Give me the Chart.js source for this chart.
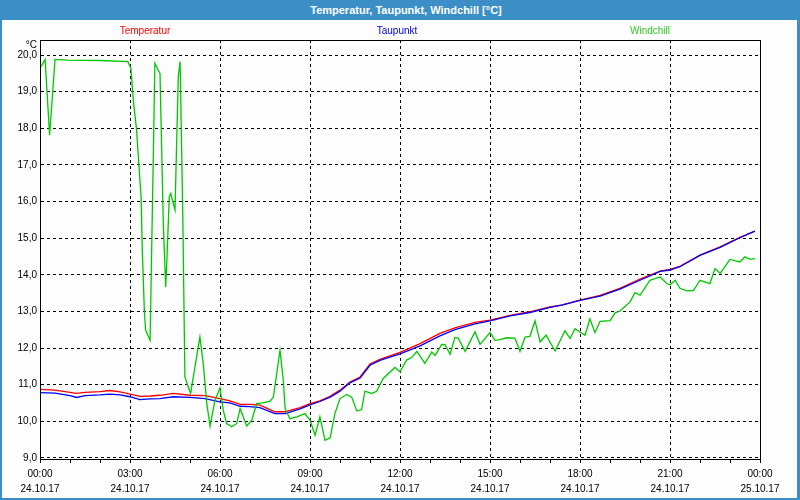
<!DOCTYPE html>
<html><head><meta charset="utf-8">
<script src="https://cdn.jsdelivr.net/npm/chart.js@4"></script>
<style>
html,body{margin:0;padding:0;background:#fff;}
#wrap{position:relative;width:800px;height:500px;overflow:hidden;background:#fcfdfc;font-family:"Liberation Sans",Arial,sans-serif;}
#title{position:absolute;left:0;top:0;width:812px;height:20px;background:#3c8fc6;color:#fff;font-weight:bold;font-size:11px;line-height:20px;text-align:center;}
#frame{position:absolute;left:0;top:20px;width:800px;height:480px;box-sizing:border-box;border-left:2px solid #3c8fc6;border-right:3px solid #3c8fc6;border-bottom:2px solid #3c8fc6;pointer-events:none}
.leg{position:absolute;top:24px;font-size:10px;line-height:13px;transform:translateX(-50%);white-space:nowrap}
#unit{position:absolute;right:763px;top:38px;font-size:10px;line-height:13px;color:#000}
canvas{position:absolute;left:0;top:0}
</style>
</head><body>
<div id="wrap">
<canvas id="c" width="800" height="500"></canvas>
<div id="title">Temperatur, Taupunkt, Windchill [°C]</div>
<div class="leg" style="left:145px;color:#ff0000">Temperatur</div>
<div class="leg" style="left:397px;color:#0000e0">Taupunkt</div>
<div class="leg" style="left:650px;color:#33cc22">Windchill</div>
<div id="unit">°C</div>
<div id="frame"></div>
</div>
<script>
// x tick labels (every 3 hours)
const timeLabels = ['00:00','03:00','06:00','09:00','12:00','15:00','18:00','21:00','00:00'];
const dateLabels = ['24.10.17','24.10.17','24.10.17','24.10.17','24.10.17','24.10.17','24.10.17','24.10.17','25.10.17'];

// Temperatur / Taupunkt (hours since 00:00)
const tempHours = [0,0.5,1,1.22,1.5,2,2.33,2.67,3,3.33,3.67,4,4.44,5,5.5,6,6.33,6.67,7,7.33,7.83,8.17,8.33,8.67,9,9.33,9.67,10,10.33,10.67,11,11.33,12,12.67,13.33,13.83,14.5,15,15.67,16.33,17,17.4,18,18.67,19.33,20,20.67,21,21.33,22,22.67,23.33,23.83];
const temperatur = [10.87,10.85,10.79,10.76,10.79,10.81,10.84,10.80,10.74,10.68,10.69,10.71,10.76,10.71,10.70,10.62,10.56,10.46,10.46,10.44,10.26,10.26,10.30,10.37,10.48,10.56,10.68,10.85,11.07,11.21,11.56,11.69,11.88,12.12,12.40,12.55,12.70,12.76,12.89,12.99,13.12,13.18,13.31,13.44,13.63,13.88,14.10,14.15,14.23,14.54,14.76,15.02,15.19];
const taupunkt = [10.78,10.77,10.70,10.65,10.70,10.72,10.74,10.72,10.67,10.59,10.61,10.62,10.67,10.65,10.62,10.53,10.50,10.41,10.40,10.37,10.21,10.21,10.25,10.34,10.45,10.54,10.66,10.82,11.05,11.18,11.53,11.66,11.84,12.06,12.33,12.50,12.66,12.74,12.88,12.97,13.11,13.17,13.30,13.42,13.61,13.85,14.09,14.13,14.22,14.53,14.75,15.01,15.19];

// Windchill
const windHours = [0,0.17,0.32,0.5,0.9,2.0,2.93,3.03,3.11,3.22,3.3,3.37,3.41,3.48,3.52,3.67,3.83,3.94,4.0,4.11,4.19,4.22,4.31,4.36,4.44,4.5,4.61,4.67,4.76,4.83,4.94,5.02,5.22,5.33,5.44,5.56,5.67,5.83,6.0,6.11,6.22,6.39,6.56,6.67,6.89,7.06,7.22,7.43,7.67,7.78,8.0,8.11,8.17,8.33,8.56,8.83,9.0,9.17,9.33,9.5,9.67,9.83,10.0,10.22,10.39,10.56,10.72,10.83,11.06,11.22,11.44,11.83,12.0,12.22,12.39,12.56,12.83,13.06,13.17,13.39,13.5,13.67,13.83,13.94,14.17,14.5,14.67,15.0,15.17,15.33,15.56,15.83,16.0,16.17,16.33,16.5,16.67,16.87,17.17,17.5,17.67,17.83,18.17,18.33,18.5,18.67,19.0,19.17,19.33,19.67,19.83,20.0,20.17,20.33,20.67,20.89,21.0,21.17,21.33,21.56,21.78,22.0,22.33,22.5,22.67,22.83,23.0,23.33,23.5,23.67,23.83];
const windchill = [19.64,19.88,17.81,19.88,19.86,19.85,19.82,19.64,18.77,17.95,16.95,16.13,14.67,12.99,12.49,12.21,19.77,19.59,19.50,15.40,13.67,14.22,16.13,16.22,15.95,15.77,19.41,19.82,15.59,11.21,10.94,10.76,11.76,12.30,11.58,10.48,9.87,10.57,10.91,10.30,9.94,9.85,9.94,10.35,9.87,10.03,10.48,10.50,10.55,10.66,11.94,11.12,10.35,10.07,10.12,10.21,10.03,9.62,10.12,9.48,9.55,10.21,10.62,10.73,10.66,10.28,10.32,10.82,10.76,10.82,11.17,11.47,11.35,11.67,11.74,11.91,11.58,11.89,11.80,12.10,12.09,11.83,12.29,12.27,11.91,12.44,12.10,12.42,12.21,12.23,12.28,12.27,11.91,12.30,12.32,12.74,12.17,12.35,11.92,12.47,12.26,12.53,12.35,12.80,12.42,12.73,12.75,12.96,13.01,13.26,13.51,13.44,13.65,13.85,13.94,13.76,13.72,13.85,13.63,13.56,13.57,13.85,13.76,14.17,14.04,14.22,14.42,14.35,14.49,14.42,14.44];

const pts = (xs, ys) => xs.map((x, i) => ({x, y: ys[i]}));
const FONT = '"Liberation Sans", Arial, sans-serif';

const boxPlugin = {
  id: 'box',
  afterDraw(chart) {
    const a = chart.chartArea, ctx = chart.ctx;
    ctx.save();
    ctx.strokeStyle = '#000';
    ctx.lineWidth = 1;
    ctx.strokeRect(Math.round(a.left) + 0.5, Math.round(a.top) + 0.5, Math.round(a.right - a.left), Math.round(a.bottom - a.top));
    ctx.restore();
  }
};

new Chart(document.getElementById('c'), {
  type: 'line',
  data: {
    datasets: [
      {label: 'Temperatur', data: pts(tempHours, temperatur), borderColor: '#ff0000', order: 2},
      {label: 'Taupunkt', data: pts(tempHours, taupunkt), borderColor: '#0000ff', order: 1},
      {label: 'Windchill', data: pts(windHours, windchill), borderColor: '#00c800', order: 0}
    ]
  },
  options: {
    responsive: false,
    animation: false,
    elements: {line: {borderWidth: 1.3, tension: 0, fill: false}, point: {radius: 0}},
    layout: {padding: {top: 40, right: 40, left: 0, bottom: 0}},
    plugins: {legend: {display: false}, tooltip: {enabled: false}, title: {display: false}},
    scales: {
      x: {
        type: 'linear', min: 0, max: 24,
        afterFit(s) { s.height = 41; },
        ticks: {
          stepSize: 1, autoSkip: false, maxRotation: 0, padding: 4, color: '#000',
          font: {size: 10, family: FONT, lineHeight: 1.5},
          callback: (v) => (v % 3 === 0 ? [timeLabels[v / 3], dateLabels[v / 3]] : '')
        },
        grid: {
          color: (c) => (c.tick && c.tick.value % 3 === 0 ? '#000' : 'rgba(0,0,0,0)'),
          tickColor: '#000', tickLength: 4, lineWidth: 1
        },
        border: {display: true, color: '#000', dash: [3, 3]}
      },
      y: {
        min: 8.97, max: 20.41,
        afterFit(s) { s.width = 40; },
        ticks: {
          stepSize: 1, includeBounds: false, padding: 3, color: '#000',
          font: {size: 10, family: FONT},
          callback: (v) => v.toFixed(1).replace('.', ',')
        },
        grid: {color: '#000', drawTicks: false, lineWidth: 1},
        border: {display: true, color: '#000', dash: [3, 3]}
      }
    }
  },
  plugins: [boxPlugin]
});
</script>
</body></html>
